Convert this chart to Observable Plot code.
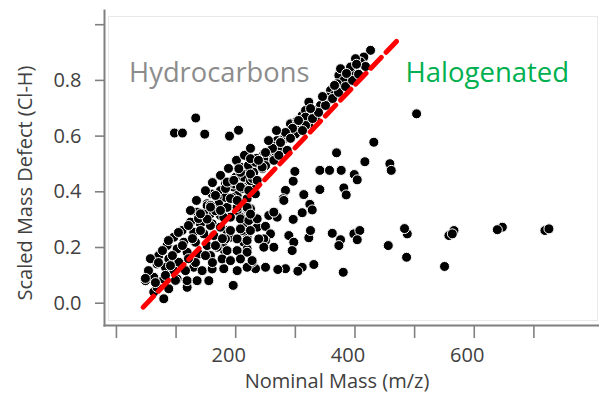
<!DOCTYPE html>
<html><head><meta charset="utf-8">
<script src="https://cdn.jsdelivr.net/npm/d3@7"></script>
<script src="https://cdn.jsdelivr.net/npm/@observablehq/plot@0.6"></script>
<style>body{margin:0;background:#fff}svg{display:block}</style>
</head><body><div id="chart"></div>
<script>
// Nominal mass (m/z) of each compound
const nominalMass = [
  // scattered / halogenated
  97.3,110.7,133.0,148.1,189.6,204.7,503.3,431.6,369.1,416.6,458.5,460.8,341.1,357.3,376.9,398.8,403.8,299.2,296.4,341.1,
  381.3,385.3,283.5,279.7,314.2,324.3,328.3,311.5,296.4,255.5,269.6,280.7,236.0,249.9,258.3,249.9,263.9,289.1,297.4,294.7,
  322.6,325.4,361.9,375.8,373.0,398.1,408.1,403.8,455.8,487.7,483.1,486.5,380.3,331.0,311.5,304.2,283.5,270.6,250.0,233.2,
  227.6,550.2,565.9,557.5,563.2,647.1,638.7,718.5,725.2,263.9,224.8,221.9,208.0,219.2,213.6,210.9,219.2,202.5,195.8,180.0,
  181.2,179.0,185.7,191.3,213.6,219.2,247.1,247.1,118.6,79.4,87.7,62.6,
  // dense band, lower part
  182.8,196.8,213.6,230.3,166.0,185.6,202.4,219.1,233.1,152.1,168.8,185.6,202.4,219.1,135.3,157.7,174.4,191.2,208.0,222.0,
  236.0,124.1,140.9,160.5,174.4,191.2,208.0,224.7,110.1,129.7,146.5,163.3,182.8,202.4,219.1,238.7,96.2,113.0,132.5,152.1,
  168.8,185.6,202.4,219.1,85.0,101.8,118.5,138.1,157.7,177.2,191.2,208.0,227.5,71.0,87.8,104.6,68.2,82.2,96.2,113.0,
  129.7,143.7,160.5,48.7,62.6,79.4,101.8,118.5,135.3,154.9,68.2,
  53.7,57.0,70.5,77.2,87.2,93.9,104.0,110.7,120.8,127.5,137.6,140.9,151.0,157.7,82.2,99.0,115.8,132.5,149.3,166.1,
  177.8,65.4,48.6,90.6,120.8,161.0,
  // dense band, middle
  356.1,342.1,328.2,333.8,319.8,311.4,305.8,291.8,297.4,289.0,280.7,269.5,261.1,275.1,258.3,247.1,266.7,249.9,236.0,224.8,
  238.7,230.3,219.2,208.0,213.6,199.6,196.8,213.6,224.8,185.6,174.4,182.8,168.9,160.5,194.0,152.1,171.6,166.1,185.6,202.4,
  219.2,224.8,146.5,180.0,152.1,
  149.3,161.0,174.5,187.9,201.3,214.7,224.8,166.1,182.9,196.3,208.0,221.4,234.9,191.2,211.4,228.2,244.9,157.7,174.5,134.2,
  124.1,
  // dense band, upper part
  426.1,414.9,400.9,409.3,386.9,395.3,373.0,381.3,370.2,359.0,364.6,353.4,331.0,317.1,314.3,303.1,297.5,305.9,291.9,322.6,
  375.8,400.9,392.5,
  322.6,300.3,275.1,275.1,247.2,233.2,224.8,250.0,317.0,
  205.2,224.8,244.4,286.3,185.7,196.8,157.7,140.9,208.0,221.9,202.5,236.0,263.9,272.3,
  317.1,328.8,338.9,350.6,362.4,372.4,384.2,395.9,406.0,417.7,325.5,345.6,365.7,385.8,402.6,305.3,295.3,283.5,275.1,261.7,
  250.0,238.2,291.9,312.0,255.0,268.4
];
// Scaled mass defect (Cl-H) of each compound
const massDefect = [
  0.611,0.611,0.665,0.607,0.600,0.621,0.680,0.578,0.540,0.508,0.501,0.477,0.477,0.477,0.477,0.462,0.443,0.473,0.438,0.408,
  0.414,0.389,0.405,0.375,0.390,0.355,0.335,0.325,0.301,0.315,0.309,0.369,0.273,0.276,0.249,0.225,0.201,0.243,0.219,0.189,
  0.235,0.261,0.251,0.228,0.207,0.249,0.261,0.228,0.207,0.249,0.268,0.165,0.111,0.139,0.129,0.115,0.124,0.121,0.129,0.124,
  0.147,0.132,0.261,0.243,0.249,0.273,0.264,0.261,0.267,0.327,0.339,0.315,0.309,0.237,0.279,0.261,0.129,0.117,0.064,0.124,
  0.189,0.219,0.261,0.237,0.219,0.195,0.231,0.201,0.057,0.016,0.052,0.040,
  0.429,0.417,0.423,0.411,0.387,0.381,0.387,0.375,0.393,0.357,0.351,0.345,0.333,0.339,0.327,0.321,0.315,0.309,0.303,0.297,
  0.303,0.291,0.285,0.285,0.273,0.261,0.267,0.261,0.261,0.255,0.249,0.243,0.231,0.231,0.225,0.231,0.237,0.219,0.219,0.207,
  0.201,0.189,0.189,0.183,0.207,0.195,0.183,0.177,0.171,0.159,0.153,0.159,0.153,0.171,0.159,0.147,0.141,0.129,0.117,0.123,
  0.129,0.117,0.123,0.081,0.093,0.087,0.087,0.081,0.081,0.081,0.057,
  0.117,0.160,0.146,0.189,0.225,0.171,0.254,0.207,0.279,0.232,0.304,0.261,0.326,0.279,0.100,0.082,0.117,0.146,0.171,0.207,
  0.232,0.074,0.089,0.135,0.160,0.146,
  0.728,0.710,0.692,0.668,0.656,0.674,0.638,0.644,0.620,0.614,0.590,0.584,0.566,0.554,0.542,0.536,0.524,0.512,0.512,0.512,
  0.488,0.470,0.476,0.488,0.452,0.452,0.428,0.416,0.440,0.422,0.404,0.380,0.380,0.392,0.380,0.350,0.356,0.332,0.344,0.344,
  0.344,0.320,0.320,0.308,0.302,
  0.404,0.433,0.459,0.484,0.513,0.531,0.556,0.387,0.412,0.441,0.470,0.495,0.520,0.376,0.412,0.448,0.484,0.351,0.333,0.369,
  0.333,
  0.908,0.884,0.860,0.866,0.830,0.824,0.818,0.800,0.788,0.764,0.746,0.740,0.692,0.692,0.662,0.656,0.626,0.620,0.608,0.722,
  0.842,0.878,0.848,
  0.644,0.608,0.578,0.548,0.518,0.506,0.464,0.494,0.668,
  0.483,0.519,0.489,0.549,0.435,0.441,0.345,0.321,0.417,0.405,0.369,0.441,0.513,0.531,
  0.638,0.663,0.685,0.710,0.735,0.757,0.778,0.800,0.822,0.850,0.699,0.742,0.782,0.825,0.858,0.656,0.628,0.613,0.577,0.556,
  0.541,0.513,0.592,0.620,0.584,0.620
];
// dashed divider line end points
const dividerMass = [45, 474];
const dividerDefect = [-0.014, 0.95];

const xDomain = [-20, 810];
const yDomain = [-0.08, 1.051];
const xTicks = [0, 100, 200, 300, 400, 500, 600, 700];
const xTickLabels = ["", "", "200", "", "400", "", "600", ""];
const yTicks = [0, 0.2, 0.4, 0.6, 0.8, 1.0];
const yTickLabels = ["0.0", "0.2", "0.4", "0.6", "0.8", ""];
const regionLabels = ["Hydrocarbons", "Halogenated"];
const xTitle = "Nominal Mass (m/z)";
const yTitle = "Scaled Mass Defect (Cl-H)";

const points = nominalMass.map((m, i) => ({mass: m, defect: massDefect[i]}));
const divider = dividerMass.map((m, i) => ({mass: m, defect: dividerDefect[i]}));

const axisGray = "#808080";
const textGray = "#404040";

const chart = Plot.plot({
  width: 599, height: 393,
  marginLeft: 104, marginRight: 0, marginTop: 10, marginBottom: 68,
  style: {fontFamily: "'Open Sans', sans-serif", background: "#fff", overflow: "visible"},
  x: {domain: xDomain},
  y: {domain: yDomain},
  marks: [
    Plot.frame({stroke: "#e9e9e9", insetLeft: 4, insetTop: 6, insetRight: 2, insetBottom: 5}),
    Plot.frame({anchor: "left", stroke: axisGray, strokeWidth: 2}),
    Plot.frame({anchor: "bottom", stroke: axisGray, strokeWidth: 2}),
    Plot.axisY(yTicks, {tickSize: 9, tickPadding: 14, tickFormat: d => yTickLabels[yTicks.indexOf(d)],
      stroke: axisGray, strokeWidth: 1.6, fill: textGray, fontSize: 20, label: null}),
    Plot.axisX(xTicks, {tickSize: 13, tickFormat: () => "", stroke: axisGray, strokeWidth: 1.6, label: null}),
    Plot.axisX(xTicks, {tickSize: 0, tickPadding: 22, dx: -7, tickFormat: d => xTickLabels[xTicks.indexOf(d)],
      fill: textGray, fontSize: 20, label: null}),
    Plot.dot(points, {x: "mass", y: "defect", r: 5, fill: "#000", stroke: "#fff", strokeWidth: 1}),
    Plot.line(divider, {x: "mass", y: "defect", stroke: "#ff0000", strokeWidth: 5, strokeDasharray: "15,7"}),
    Plot.text([regionLabels[0]], {text: d => d, frameAnchor: "top-left", textAnchor: "start", lineAnchor: "middle",
      dx: 24.6, dy: 62.5, fontSize: 27.3, fill: "#8c8c8c"}),
    Plot.text([regionLabels[1]], {text: d => d, frameAnchor: "top-left", textAnchor: "start", lineAnchor: "middle",
      dx: 301, dy: 63.1, fontSize: 27.5, fill: "#00b050"}),
    Plot.text([xTitle], {text: d => d, frameAnchor: "bottom", textAnchor: "middle", lineAnchor: "middle", dx: -15, dy: 56,
      fontSize: 20, fill: textGray}),
    Plot.text([yTitle], {text: d => d, frameAnchor: "left", textAnchor: "middle", rotate: -90, lineAnchor: "middle",
      dx: -79.4, dy: 15, fontSize: 20, fill: textGray})
  ]
});
document.getElementById("chart").appendChild(chart);
</script>
</body></html>
